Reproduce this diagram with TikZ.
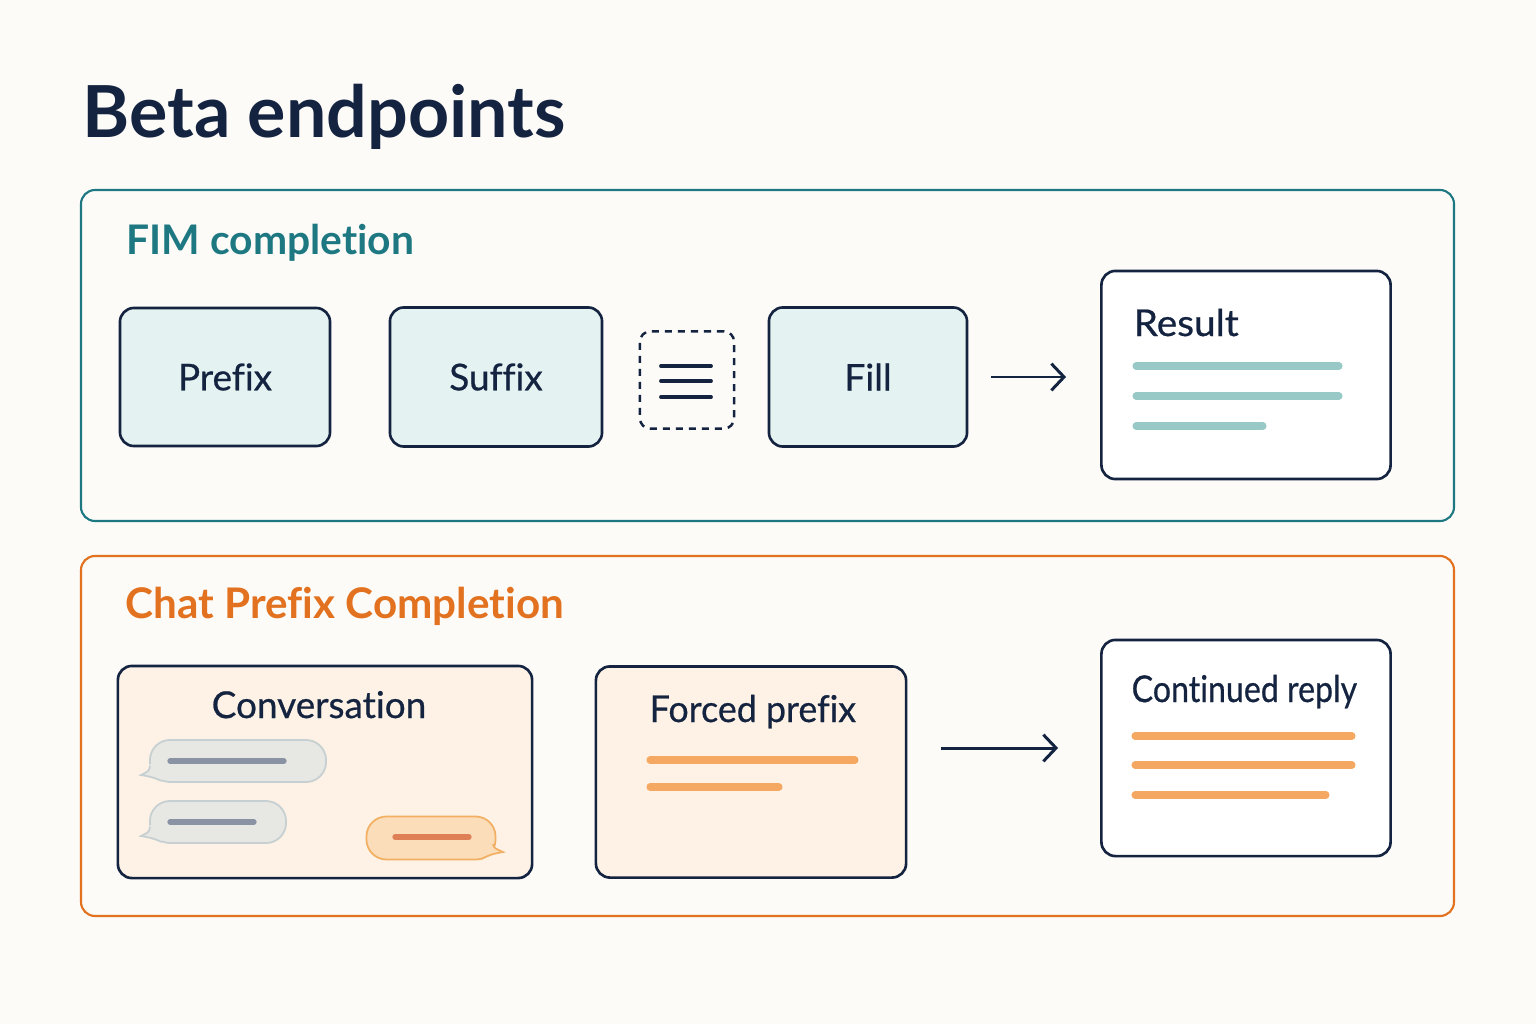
\documentclass[tikz,border=0pt]{standalone}
\usepackage{fontspec}
\usepackage{graphicx}
\setmainfont[Ligatures={NoCommon,NoContextual}]{Lato}
\newfontfamily\lblfont[Ligatures={NoCommon,NoContextual},FakeBold=0.6]{Lato}
\usetikzlibrary{arrows.meta,positioning}

\definecolor{navy}{HTML}{14233F}
\definecolor{fimteal}{HTML}{1E7882}
\definecolor{fimfill}{HTML}{E4F2F2}
\definecolor{fimline}{HTML}{98C9C6}
\definecolor{chatorange}{HTML}{E2721F}
\definecolor{chatfill}{HTML}{FDF2E5}
\definecolor{chatline}{HTML}{F5A862}
\definecolor{bgcol}{HTML}{FCFBF8}
\definecolor{bubgray}{HTML}{E7E7E4}
\definecolor{bubedge}{HTML}{C6CFD1}
\definecolor{bubline}{HTML}{8A93A3}
\definecolor{bubor}{HTML}{FCDDB9}
\definecolor{buboredge}{HTML}{F2B064}
\definecolor{buborline}{HTML}{DE7F55}

\begin{document}
\begin{tikzpicture}[x=0.01cm,y=-0.01cm,
    panel/.style={line width=0.6pt,rounded corners=0.14cm},
    inbox/.style={draw=navy,line width=0.75pt,rounded corners=0.14cm,
      font=\lblfont\fontsize{10.5}{12}\selectfont,text=navy,inner sep=0pt},
    boxtitle/.style={anchor=base west,font=\lblfont\fontsize{10.5}{12}\selectfont,text=navy,inner sep=0pt},
    txtline/.style={line width=2pt,line cap=round},
    flowarrow/.style={draw=navy,line width=0.85pt,-{Straight Barb[length=3.6pt,width=7.6pt]}},
    bub/.style={line width=0.5pt,rounded corners=0.2cm,inner sep=0pt}]
    \fill[bgcol] (0,0) rectangle (1536,1024);

    % heading
    \node[anchor=base west,inner sep=0pt,text=navy,font=\fontsize{20.4}{23}\selectfont\bfseries]
      (heading) at (82,137) {Beta endpoints};

    % FIM panel
    \draw[panel,draw=fimteal] (81,190) rectangle (1454,521);
    \node[anchor=base west,inner sep=0pt,text=fimteal,font=\fontsize{11.6}{14}\selectfont\bfseries]
      (fimtitle) at (126,254) {FIM completion};
    \node[inbox,fill=fimfill,minimum width=2.10cm,minimum height=1.38cm] (prefix) at (225,377) {Prefix};
    \node[inbox,fill=fimfill,minimum width=2.12cm,minimum height=1.39cm] (suffix) at (496,377) {Suffix};
    \node[draw=navy,line width=0.7pt,dash pattern=on 2pt off 1.7pt,rounded corners=0.1cm,
      minimum width=0.94cm,minimum height=0.97cm] (gap) at (687,380) {};
    \foreach \yy in {366,381,397}
      \draw[navy,line width=1.1pt,line cap=round] (661,\yy) -- (711,\yy);
    \node[inbox,fill=fimfill,minimum width=1.98cm,minimum height=1.39cm] (fill) at (868,377) {Fill};
    \node[inbox,fill=white,minimum width=2.89cm,minimum height=2.08cm] (result) at (1246,375) {};
    \node[boxtitle] (resultlbl) at (1133,336) {\scalebox{1.05}[1]{Result}};
    \draw[txtline,fimline] (1136,366) -- (1339,366);
    \draw[txtline,fimline] (1136,396) -- (1339,396);
    \draw[txtline,fimline] (1136,426) -- (1263,426);
    \draw[flowarrow,shorten <=0.23cm,shorten >=0.34cm] (fill.east) -- (fill.east -| result.west);

    % chat prefix panel
    \draw[panel,draw=chatorange] (81,556) rectangle (1454,916);
    \node[anchor=base west,inner sep=0pt,text=chatorange,font=\fontsize{12}{14}\selectfont\bfseries]
      (chattitle) at (125,618) {Chat Prefix Completion};
    \node[inbox,fill=chatfill,minimum width=4.14cm,minimum height=2.12cm] (conv) at (325,772) {};
    \node[anchor=base,inner sep=0pt,text=navy,font=\lblfont\fontsize{10.5}{12}\selectfont]
      (convlbl) at (319,718) {Conversation};

    % bubbles
    \node[bub,draw=bubedge,fill=bubgray,minimum width=1.76cm,minimum height=0.42cm] (bubA) at (238,761) {};
    \fill[bubgray] (150,764) .. controls (149,771) .. (141,775) .. controls (152,777) .. (162,781) -- (165,770) -- cycle;
    \draw[bubedge,line width=0.5pt] (150,766) .. controls (149,771) .. (141,775) .. controls (152,777) .. (162,781);
    \draw[txtline,bubline,line width=1.5pt] (170,761) -- (284,761);

    \node[bub,draw=bubedge,fill=bubgray,minimum width=1.36cm,minimum height=0.42cm] (bubB) at (218,822) {};
    \fill[bubgray] (150,825) .. controls (149,832) .. (141,836) .. controls (152,838) .. (162,842) -- (165,831) -- cycle;
    \draw[bubedge,line width=0.5pt] (150,827) .. controls (149,832) .. (141,836) .. controls (152,838) .. (162,842);
    \draw[txtline,bubline,line width=1.5pt] (170,822) -- (254,822);

    \node[bub,draw=buboredge,fill=bubor,minimum width=1.29cm,minimum height=0.43cm] (bubC) at (431,838) {};
    \fill[bubor] (493,842) .. controls (494,848) .. (503,852) .. controls (492,854) .. (481,859) -- (478,848) -- cycle;
    \draw[buboredge,line width=0.5pt] (493,844) .. controls (494,848) .. (503,852) .. controls (492,854) .. (481,859);
    \draw[txtline,buborline,line width=1.5pt] (395,837) -- (469,837);

    \node[inbox,fill=chatfill,minimum width=3.10cm,minimum height=2.11cm] (forced) at (751,772) {};
    \node[boxtitle] (forcedlbl) at (649,722) {\scalebox{0.97}[1]{Forced prefix}};
    \draw[txtline,chatline] (650,760) -- (855,760);
    \draw[txtline,chatline] (650,787) -- (779,787);

    \node[inbox,fill=white,minimum width=2.89cm,minimum height=2.16cm] (reply) at (1246,748) {};
    \node[boxtitle] (replylbl) at (1131,702) {\scalebox{0.87}[1]{Continued reply}};
    \draw[txtline,chatline] (1135,736) -- (1352,736);
    \draw[txtline,chatline] (1135,765) -- (1352,765);
    \draw[txtline,chatline] (1135,795) -- (1326,795);
    \draw[flowarrow,shorten <=0.34cm,shorten >=0.42cm] (forced.east |- reply.west) -- (reply.west);
\end{tikzpicture}
\end{document}
